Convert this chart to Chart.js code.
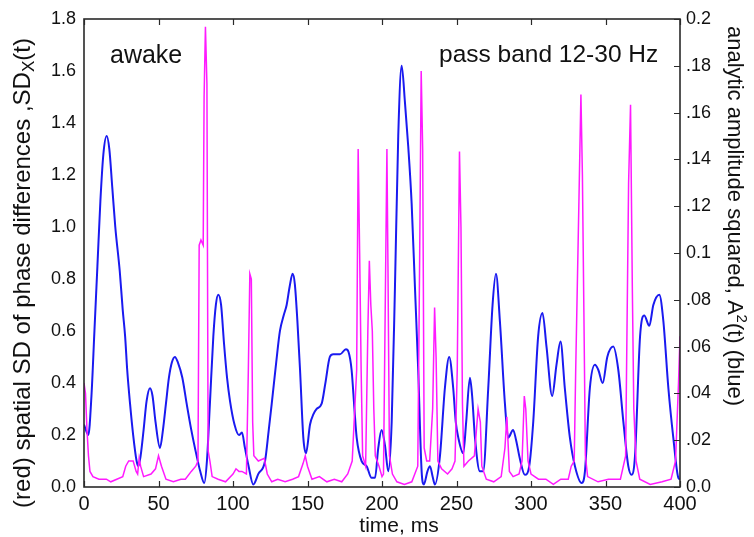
<!DOCTYPE html>
<html>
<head>
<meta charset="utf-8">
<script src="https://cdn.jsdelivr.net/npm/chart.js@4.4.1/dist/chart.umd.min.js"></script>
<style>
html, body { margin: 0; padding: 0; background: #fff; }
#wrap { width: 754px; height: 537px; }
</style>
</head>
<body>
<div id="wrap"><canvas id="phaseChart" width="754" height="537"></canvas></div>
<script>
// DATA: blue = analytic amplitude squared (right axis), magenta = spatial SD (left axis)
const blueTime = [0, 2.9, 5, 7, 9, 11, 13, 15.2, 17, 19, 21, 24, 26, 27.6, 29, 30.9, 33, 35.3, 36.5, 38,
  40, 42, 44.3, 46, 48, 51, 53, 55, 57, 59, 61, 63, 66, 68.9, 72, 75.6, 78, 80.7, 82.5, 84.5,
  86.8, 88.5, 90.1, 92, 94, 96, 98, 101, 104, 106, 108, 110.3, 113.6, 117, 121.5, 124, 126, 129, 131.5, 134,
  136, 138, 140, 141.5, 143.2, 145, 147.2, 149, 151.7, 154, 156, 159.5, 162, 165, 167.3, 171.8, 175.8, 177.5, 179.6, 181.5,
  183, 186.3, 189.7, 193, 195.3, 197.5, 199.7, 202, 204.2, 206.5, 208.7, 210.9, 213.2, 215.4, 217.6, 219.9, 222.1, 224.3, 226.6, 228.1,
  230.5, 232.2, 234, 235.5, 238.9, 242.2, 245.1, 247.8, 249.5, 251.2, 254.5, 256.5, 259, 260.5, 262.4, 265.7, 267.9, 271.3, 274.2, 276.5,
  279.1, 282.5, 284.7, 288, 290, 292.5, 295.9, 298.8, 301.5, 304.8, 307.7, 310.4, 314.2, 317.1, 319.8, 322.7, 326.1, 329.5, 334, 336.2,
  339.5, 342.9, 345.2, 348.1, 351.2, 355.2, 358.6, 362, 365.3, 367.5, 369.8, 373.2, 376, 379.4, 382.1, 386.1, 388.8, 392.2, 395.5, 398.9, 400];
const blueAmp = [.0267, .0222, .0389, .0667, .0944, .1222, .1422, .1500, .1444, .1278, .1111, .0922, .0756, .0644, .0500, .0356, .0222, .0111, .0089, .0133,
  .0244, .0367, .0422, .0389, .0278, .0167, .0244, .0356, .0467, .0533, .0556, .0533, .0467, .0356, .0244, .0133, .0067, .0017, .0111, .0356,
  .0644, .0778, .0822, .0778, .0611, .0467, .0367, .0267, .0222, .0233, .0167, .0094, .0011, .0056, .0111, .0244, .0356, .0533, .0667, .0733,
  .0778, .0856, .0911, .0867, .0711, .0500, .0211, .0144, .0267, .0311, .0333, .0356, .0444, .0556, .0567, .0567, .0589, .0578, .0500, .0333,
  .0211, .0111, .0089, .0039, .0039, .0167, .0244, .0178, .0067, .0278, .0856, .1500, .1800, .1644, .1456, .1211, .0856, .0500, .0067, .0011,
  .0067, .0089, .0044, .0011, .0133, .0422, .0556, .0422, .0278, .0211, .0144, .0278, .0467, .0389, .0211, .0067, .0067, .0422, .0778, .0911,
  .0711, .0356, .0211, .0244, .0200, .0122, .0052, .0089, .0278, .0644, .0744, .0600, .0389, .0522, .0622, .0422, .0211, .0089, .0017, .0067,
  .0422, .0522, .0500, .0444, .0556, .0600, .0500, .0278, .0089, .0052, .0133, .0644, .0733, .0689, .0778, .0822, .0711, .0422, .0211, .0039, .0033];

const redTime = [0, 1, 2, 3, 4, 6, 10, 15, 18, 22, 26, 28, 30, 33, 35, 36, 37, 38, 40, 45,
  48, 50, 52, 55, 60, 65, 68, 72, 75, 76.5, 77.3, 78.5, 80, 80.6, 81.5, 82.5, 83.3, 84.5, 86, 90,
  95, 100, 102, 104, 106, 109, 110.3, 111.3, 112.3, 113.2, 114, 117, 121, 123, 126, 130, 135, 140, 144, 147,
  148.5, 150, 153, 158, 163, 168, 173, 177, 180, 183, 184, 185, 186, 187, 189, 190.5, 191.5, 192.5, 193.5, 194.5,
  195.5, 198, 200, 201, 202, 203.3, 204, 205, 207, 210, 215, 220, 224, 225.3, 226.3, 227.3, 228.3, 230, 232, 234,
  235.3, 236.3, 237.5, 240, 244, 247, 249, 250.5, 252, 253, 254, 255, 258, 262, 264.5, 266, 267, 270, 275, 280,
  282.5, 283.8, 285.5, 288, 292, 294, 295.5, 296.5, 298, 300, 305, 310, 315, 320, 325, 327, 329, 330, 332, 333.5,
  334.5, 335.5, 336.5, 338, 345, 352, 360, 363.5, 365.5, 366.8, 368, 369, 370.5, 373, 380, 388, 394, 397, 399, 400];
const redSD = [0.40, 0.36, 0.22, 0.12, 0.06, 0.04, 0.03, 0.03, 0.02, 0.03, 0.04, 0.08, 0.10, 0.10, 0.06, 0.05, 0.11, 0.08, 0.04, 0.05,
  0.07, 0.12, 0.08, 0.03, 0.02, 0.03, 0.03, 0.06, 0.08, 0.10, 0.93, 0.95, 0.93, 1.50, 1.77, 1.55, 0.14, 0.10, 0.04, 0.03,
  0.02, 0.05, 0.07, 0.06, 0.06, 0.05, 0.45, 0.82, 0.80, 0.25, 0.12, 0.10, 0.11, 0.05, 0.02, 0.03, 0.02, 0.03, 0.04, 0.09,
  0.12, 0.08, 0.03, 0.04, 0.02, 0.03, 0.02, 0.05, 0.10, 0.45, 1.30, 0.90, 0.45, 0.12, 0.08, 0.60, 0.87, 0.70, 0.60, 0.30,
  0.12, 0.08, 0.04, 0.05, 0.60, 1.30, 0.85, 0.12, 0.05, 0.02, 0.01, 0.02, 0.08, 0.90, 1.60, 1.30, 0.15, 0.10, 0.10, 0.30,
  0.69, 0.50, 0.10, 0.07, 0.05, 0.07, 0.10, 0.45, 1.29, 1.00, 0.32, 0.08, 0.10, 0.12, 0.30, 0.25, 0.08, 0.03, 0.02, 0.04,
  0.15, 0.27, 0.06, 0.04, 0.05, 0.10, 0.35, 0.30, 0.10, 0.05, 0.03, 0.03, 0.01, 0.03, 0.03, 0.08, 0.10, 0.45, 1.05, 1.51,
  1.20, 0.67, 0.12, 0.04, 0.02, 0.03, 0.03, 0.12, 1.17, 1.47, 0.77, 0.30, 0.10, 0.03, 0.01, 0.02, 0.03, 0.10, 0.40, 0.58];

const xTicks = [0, 50, 100, 150, 200, 250, 300, 350, 400];

const FONT = "'Liberation Sans', Arial, Helvetica, sans-serif";

// draws the frame, inward tick marks, axis titles and text inside the plot
const framePlugin = {
  id: 'frame',
  afterDraw(chart) {
    const { ctx, chartArea: a, scales } = chart;
    ctx.save();
    ctx.strokeStyle = '#2a2a2a';
    ctx.lineWidth = 1.6;
    ctx.strokeRect(a.left, a.top, a.right - a.left, a.bottom - a.top);

    ctx.lineWidth = 1.2;
    ctx.beginPath();
    scales.x.ticks.forEach(t => {
      const px = Math.round(scales.x.getPixelForValue(t.value)) + 0.5;
      ctx.moveTo(px, a.bottom); ctx.lineTo(px, a.bottom - 6);
      ctx.moveTo(px, a.top); ctx.lineTo(px, a.top + 6);
    });
    scales.y1.ticks.forEach(t => {
      const py = Math.round(scales.y1.getPixelForValue(t.value)) + 0.5;
      ctx.moveTo(a.right, py); ctx.lineTo(a.right - 6, py);
    });
    ctx.stroke();

    ctx.fillStyle = '#111';
    ctx.textBaseline = 'alphabetic';
    ctx.textAlign = 'left';
    ctx.font = '25px ' + FONT;
    ctx.fillText('awake', 110, 63);
    ctx.font = '24.5px ' + FONT;
    ctx.fillText('pass band 12-30 Hz', 439, 62);

    // x title
    ctx.font = '21px ' + FONT;
    ctx.textAlign = 'center';
    ctx.fillText('time, ms', 399, 532);

    // left title with subscript X
    ctx.textAlign = 'left';
    ctx.save();
    ctx.translate(22, 273);
    ctx.rotate(-Math.PI / 2);
    const big = '24px ' + FONT, small = '17px ' + FONT;
    const partA = '(red) spatial SD of phase differences ,SD', partB = 'X', partC = '(t)';
    ctx.font = big; const wA = ctx.measureText(partA).width, wC = ctx.measureText(partC).width;
    ctx.font = small; const wB = ctx.measureText(partB).width;
    let x0 = -(wA + wB + wC) / 2;
    ctx.font = big; ctx.fillText(partA, x0, 8);
    ctx.font = small; ctx.fillText(partB, x0 + wA, 12);
    ctx.font = big; ctx.fillText(partC, x0 + wA + wB, 8);
    ctx.restore();

    // right title with superscript 2
    ctx.save();
    ctx.translate(735, 216);
    ctx.rotate(Math.PI / 2);
    const bigR = '22px ' + FONT, smallR = '15px ' + FONT;
    const rA = 'analytic amplitude squared, A', rB = '2', rC = '(t) (blue)';
    ctx.font = bigR; const vA = ctx.measureText(rA).width, vC = ctx.measureText(rC).width;
    ctx.font = smallR; const vB = ctx.measureText(rB).width;
    x0 = -(vA + vB + vC) / 2;
    ctx.font = bigR; ctx.fillText(rA, x0, 7);
    ctx.font = smallR; ctx.fillText(rB, x0 + vA, -2);
    ctx.font = bigR; ctx.fillText(rC, x0 + vA + vB, 7);
    ctx.restore();

    ctx.restore();
  }
};

const bluePoints = blueTime.map((t, i) => ({ x: t, y: blueAmp[i] }));
const redPoints = redTime.map((t, i) => ({ x: t, y: redSD[i] }));

function rightLabel(v) {
  const s = v.toFixed(2);
  if (s === '0.20') return '0.2';
  if (s === '0.10') return '0.1';
  if (s === '0.00') return '0.0';
  return s.slice(1);
}

new Chart(document.getElementById('phaseChart'), {
  type: 'line',
  data: {
    datasets: [
      {
        label: 'SDx(t)',
        data: redPoints,
        yAxisID: 'y',
        borderColor: '#ff1aff',
        borderWidth: 1.5,
        pointRadius: 0,
        tension: 0,
        order: 0
      },
      {
        label: 'A2(t)',
        data: bluePoints,
        yAxisID: 'y1',
        borderColor: '#1a1af0',
        borderWidth: 2,
        pointRadius: 0,
        cubicInterpolationMode: 'monotone',
        order: 1
      }
    ]
  },
  options: {
    responsive: false,
    animation: false,
    events: [],
    layout: { padding: { top: 19, left: 0, right: 0, bottom: 0 } },
    plugins: { legend: { display: false }, tooltip: { enabled: false } },
    scales: {
      x: {
        type: 'linear',
        min: 0, max: 400,
        afterBuildTicks: s => { s.ticks = xTicks.map(v => ({ value: v })); },
        grid: { display: false, drawTicks: false },
        border: { display: false },
        ticks: { color: '#111', font: { family: FONT, size: 20 }, padding: 5, maxRotation: 0 },
        afterFit: s => { s.height = 50; }
      },
      y: {
        position: 'left',
        min: 0, max: 1.8,
        grid: { display: false, drawTicks: false },
        border: { display: false },
        ticks: { stepSize: 0.2, color: '#111', font: { family: FONT, size: 18 }, padding: 8,
          callback: v => v.toFixed(1) },
        afterFit: s => { s.width = 84; }
      },
      y1: {
        position: 'right',
        min: 0, max: 0.2,
        grid: { display: false, drawTicks: false },
        border: { display: false },
        ticks: { stepSize: 0.02, color: '#111', font: { family: FONT, size: 18 }, padding: 6,
          callback: v => rightLabel(v) },
        afterFit: s => { s.width = 74; }
      }
    }
  },
  plugins: [framePlugin]
});
</script>
</body>
</html>
